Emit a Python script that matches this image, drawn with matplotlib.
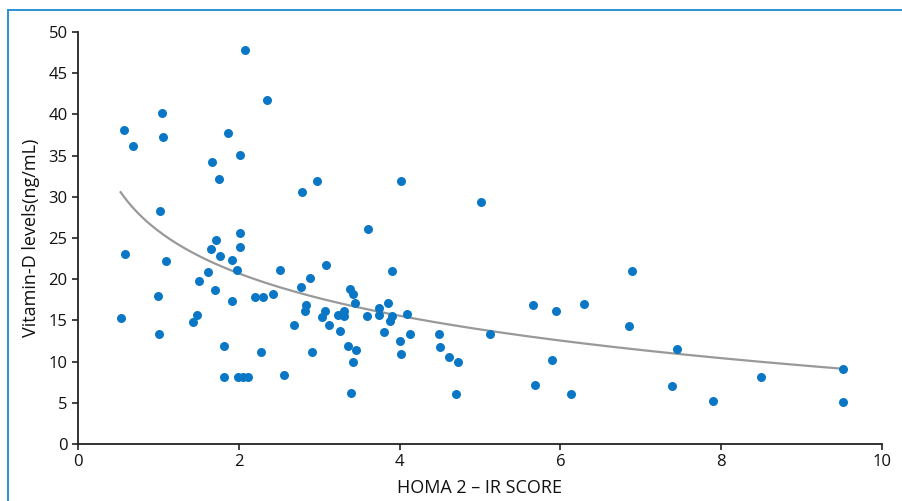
"""HOMA 2-IR 与维生素D水平散点图（对数拟合曲线）"""

import numpy as np
import matplotlib
matplotlib.use('Agg')
import matplotlib.pyplot as plt
from matplotlib.lines import Line2D

# 数据：HOMA 2-IR 评分与维生素D水平 (ng/mL)
homa_ir = [
    2.08, 2.35, 1.04, 0.57, 0.69, 1.06, 1.86, 2.02, 1.67, 1.75,
    1.02, 2.02, 1.72, 2.02, 1.66, 2.97, 2.79, 4.02, 5.01, 3.61,
    0.58, 1.09, 0.53, 0.99, 1.01, 1.43, 1.48, 1.51, 1.62, 1.70,
    1.77, 1.92, 1.98, 1.92, 1.82, 1.82, 1.99, 2.05, 2.11, 2.20,
    2.30, 2.42, 2.51, 2.27, 2.56, 2.69, 3.08, 2.89, 2.77, 3.91,
    2.84, 2.82, 3.07, 3.03, 3.12, 2.91, 3.23, 3.31, 3.31, 3.26,
    3.38, 3.42, 3.45, 3.36, 3.46, 3.42, 3.39, 3.59, 3.74, 3.74,
    3.85, 3.91, 3.88, 3.80, 4.09, 4.13, 4.00, 4.02, 4.49, 4.50,
    4.61, 4.73, 4.70, 5.12, 5.66, 5.95, 6.29, 5.89, 5.69, 6.13,
    6.89, 6.85, 7.45, 7.39, 7.90, 8.49, 9.51, 9.51,
]
vitamin_d = [
    47.8, 41.8, 40.2, 38.1, 36.2, 37.2, 37.8, 35.1, 34.2, 32.2,
    28.3, 25.6, 24.8, 23.9, 23.7, 31.9, 30.6, 31.9, 29.4, 26.1,
    23.0, 22.2, 15.3, 18.0, 13.4, 14.8, 15.7, 19.8, 20.9, 18.7,
    22.8, 22.3, 21.1, 17.4, 11.9, 8.1, 8.1, 8.1, 8.1, 17.8,
    17.8, 18.2, 21.1, 11.2, 8.4, 14.5, 21.7, 20.2, 19.0, 21.0,
    16.9, 16.2, 16.2, 15.4, 14.5, 11.2, 15.7, 16.1, 15.5, 13.75,
    18.8, 18.2, 17.1, 11.9, 11.4, 10.0, 6.15, 15.5, 16.5, 15.65,
    17.15, 15.5, 14.9, 13.55, 15.8, 13.35, 12.5, 10.9, 13.35, 11.8,
    10.5, 9.9, 6.1, 13.3, 16.9, 16.1, 17.0, 10.15, 7.1, 6.1,
    20.95, 14.3, 11.5, 7.0, 5.2, 8.1, 9.05, 5.15,
]

x_ticks = [0, 2, 4, 6, 8, 10]
y_ticks = [0, 5, 10, 15, 20, 25, 30, 35, 40, 45, 50]
x_label = 'HOMA 2 – IR SCORE'
y_label = 'Vitamin-D levels(ng/mL)'

DOT_COLOR = '#0a77c6'
FIT_COLOR = '#999999'
FRAME_COLOR = '#2a90d8'

plt.rcParams['font.family'] = ['Open Sans', 'DejaVu Sans']

fig = plt.figure(figsize=(9.03, 5.01), dpi=100)
ax = fig.add_axes([0.0864, 0.1138, 0.8903, 0.8223])

x = np.array(homa_ir)
y = np.array(vitamin_d)

ax.scatter(x, y, s=42, color=DOT_COLOR, linewidths=0, zorder=3)

# 对数拟合 y = a + b*ln(x)
b, a = np.polyfit(np.log(x), y, 1)
xs = np.linspace(x.min(), x.max(), 200)
ax.plot(xs, a + b * np.log(xs), color=FIT_COLOR, linewidth=1.6, zorder=2)

ax.set_xlim(0, 10)
ax.set_ylim(0, 50)
ax.set_xticks(x_ticks)
ax.set_yticks(y_ticks)
ax.tick_params(axis='both', labelsize=12, length=4.5, width=1.2,
               color='#222222', labelcolor='#111111', pad=3)

for side in ('top', 'right'):
    ax.spines[side].set_visible(False)
for side in ('left', 'bottom'):
    ax.spines[side].set_linewidth(1.3)
    ax.spines[side].set_color('#222222')

ax.set_xlabel(x_label, fontsize=13, color='#111111', labelpad=6)
ax.set_ylabel(y_label, fontsize=13, color='#111111', labelpad=6)

# 外框蓝线（顶部与左侧）
fig.add_artist(Line2D([8 / 903, 1.0], [1 - 10 / 501, 1 - 10 / 501],
                      transform=fig.transFigure, color=FRAME_COLOR, linewidth=1.4))
fig.add_artist(Line2D([8 / 903, 8 / 903], [0.0, 1 - 10 / 501],
                      transform=fig.transFigure, color=FRAME_COLOR, linewidth=1.4))

fig.savefig('out.png', dpi=100)
